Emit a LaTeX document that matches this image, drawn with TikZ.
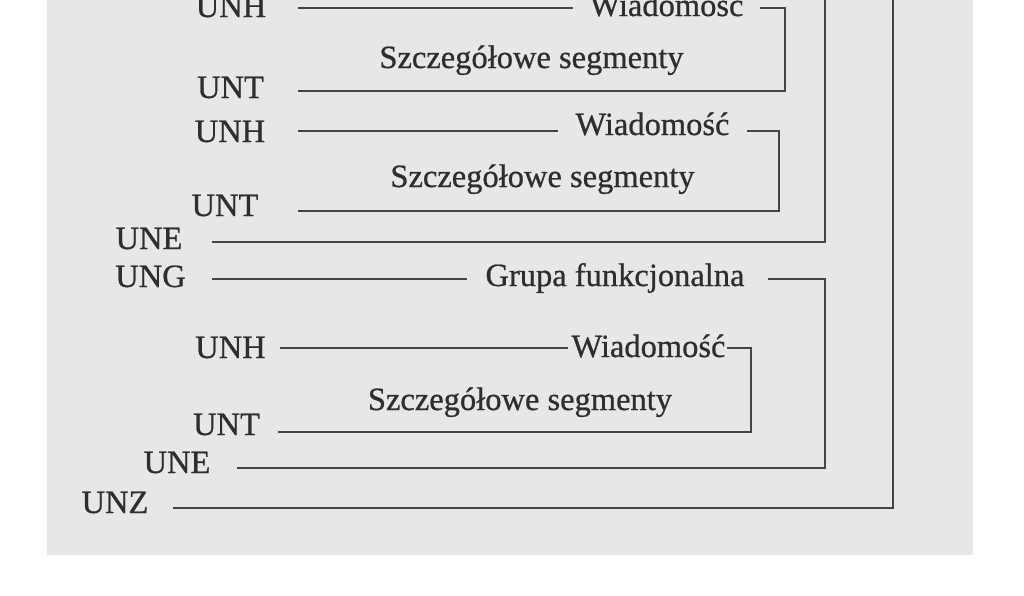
\documentclass[tikz,border=0pt]{standalone}
\usepackage{fontspec}
\setmainfont{Liberation Serif}
\newfontfamily\diagfont[FakeBold=0.7]{Liberation Serif}
\definecolor{bgray}{HTML}{E7E7E7}
\definecolor{lgray}{HTML}{454545}
\definecolor{tgray}{HTML}{2E2E2E}
\begin{document}
\begin{tikzpicture}[x=1pt,y=-1pt,
  lbl/.style={anchor=base,inner sep=0pt,text=tgray,font=\diagfont\fontsize{32.5}{39}\selectfont},
  conn/.style={draw=lgray,line width=2.6pt,line cap=butt,line join=miter}]
\useasboundingbox (0,0) rectangle (1024,595);
\clip (0,0) rectangle (1024,595);
\fill[white] (0,0) rectangle (1024,595);
\fill[bgray] (47,-10) rectangle (973,555);

% labels
\node[lbl] (unh1) at (231,17) {UNH};
\node[lbl] (wia1) at (666.5,16) {Wiadomość};
\node[lbl] (sz1) at (531.5,68) {Szczegółowe segmenty};
\node[lbl] (unt1) at (230.5,98) {UNT};
\node[lbl] (unh2) at (230,142) {UNH};
\node[lbl] (wia2) at (652.5,135) {Wiadomość};
\node[lbl] (sz2) at (542.5,187) {Szczegółowe segmenty};
\node[lbl] (unt2) at (225,216) {UNT};
\node[lbl] (une1) at (149,249) {UNE};
\node[lbl] (ung) at (150.5,287) {UNG};
\node[lbl] (grp) at (615,286) {Grupa funkcjonalna};
\node[lbl] (unh3) at (230.5,358) {UNH};
\node[lbl] (wia3) at (648.5,357) {Wiadomość};
\node[lbl] (sz3) at (520,410) {Szczegółowe segmenty};
\node[lbl] (unt3) at (226.5,435) {UNT};
\node[lbl] (une2) at (177,473) {UNE};
\node[lbl] (unz) at (115,513) {UNZ};

% coordinates
\coordinate (m1a) at (298,8);   \coordinate (m1b) at (573,8);
\coordinate (m1c) at (760,8);   \coordinate (m1d) at (785,8);
\coordinate (m1e) at (785,91);  \coordinate (m1f) at (298,91);
\coordinate (m2a) at (298,131); \coordinate (m2b) at (558,131);
\coordinate (m2c) at (747,131); \coordinate (m2d) at (779,131);
\coordinate (m2e) at (779,211); \coordinate (m2f) at (298,211);
\coordinate (g1a) at (825,-10); \coordinate (g1b) at (825,242);
\coordinate (g1c) at (212,242);
\coordinate (g2a) at (212,279); \coordinate (g2b) at (467,279);
\coordinate (g2c) at (768,279); \coordinate (g2d) at (825,279);
\coordinate (g2e) at (825,468); \coordinate (g2f) at (237,468);
\coordinate (m3a) at (280,348); \coordinate (m3b) at (568,348);
\coordinate (m3c) at (727,348); \coordinate (m3d) at (751,348);
\coordinate (m3e) at (751,432); \coordinate (m3f) at (278,432);
\coordinate (oa) at (893,-10);  \coordinate (ob) at (893,508);
\coordinate (oc) at (173,508);

% connectors
\draw[conn] (m1a) -- (m1b);
\draw[conn] (m1c) -- (m1d) -- (m1e) -- (m1f);
\draw[conn] (m2a) -- (m2b);
\draw[conn] (m2c) -- (m2d) -- (m2e) -- (m2f);
\draw[conn] (g1a) -- (g1b) -- (g1c);
\draw[conn] (g2a) -- (g2b);
\draw[conn] (g2c) -- (g2d) -- (g2e) -- (g2f);
\draw[conn] (m3a) -- (m3b);
\draw[conn] (m3c) -- (m3d) -- (m3e) -- (m3f);
\draw[conn] (oa) -- (ob) -- (oc);
\end{tikzpicture}
\end{document}
